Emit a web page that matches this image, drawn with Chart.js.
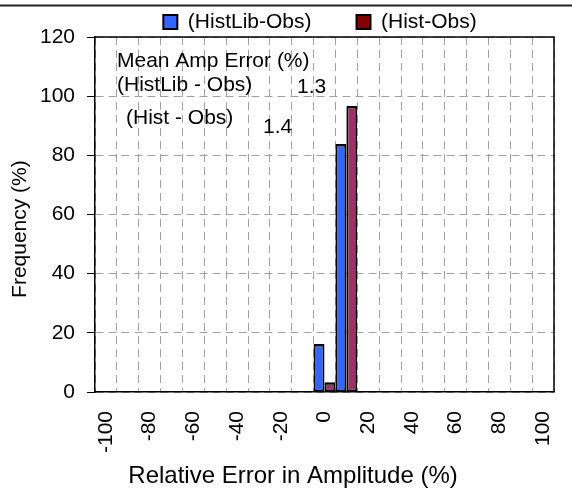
<!DOCTYPE html>
<html>
<head>
<meta charset="utf-8">
<script src="https://cdn.jsdelivr.net/npm/chart.js@4.4.1/dist/chart.umd.min.js"></script>
<style>
  html, body { margin: 0; padding: 0; background: #fff; }
  #wrap { width: 572px; height: 492px; }
</style>
</head>
<body>
<div id="wrap"><canvas id="ampChart" width="572" height="492"></canvas></div>
<script>
// Histogram bins (relative error, %), every other bin gets a label
const categories = ['-100', '-90', '-80', '-70', '-60', '-50', '-40', '-30', '-20', '-10', '0',
  '10', '20', '30', '40', '50', '60', '70', '80', '90', '100'];
const shownTicks = ['-100', '-80', '-60', '-40', '-20', '0', '20', '40', '60', '80', '100'];
const yTicks = [0, 20, 40, 60, 80, 100, 120];

// Frequency (%) per bin
const histLibObs = [0, 0, 0, 0, 0, 0, 0, 0, 0, 0, 16.2, 83.8, 0, 0, 0, 0, 0, 0, 0, 0, 0];
const histObs = [0, 0, 0, 0, 0, 0, 0, 0, 0, 0, 3.3, 96.7, 0, 0, 0, 0, 0, 0, 0, 0, 0];

const seriesNames = ['(HistLib-Obs)', '(Hist-Obs)'];
const noteTitle = 'Mean Amp Error (%)';
const noteRows = ['(HistLib - Obs)', '(Hist - Obs)'];
const noteValues = ['1.3', '1.4'];

const fontFamily = '"Liberation Sans", Arial, sans-serif';
Chart.defaults.font.family = fontFamily;
Chart.defaults.color = '#000';

const gridGrey = '#a0a0a0';
const barFills = ['#3366ff', '#993366'];
const legendFills = ['#3366ff', '#800000'];

// rule across the top, plot frame, and the mean-error note
const chartNotes = {
  id: 'chartNotes',
  afterLayout(chart) {
    const lg = chart.legend, area = chart.chartArea;
    const shift = (area.left + area.right) / 2 - 4.5 - (lg.left + lg.right) / 2;
    lg.left += shift;
    lg.right += shift;
    lg.top += 5.5;
    lg.bottom += 5.5;
  },
  beforeDraw(chart) {
    const ctx = chart.ctx;
    ctx.save();
    ctx.strokeStyle = '#222';
    ctx.lineWidth = 2;
    ctx.beginPath();
    ctx.moveTo(0, 5.5);
    ctx.lineTo(chart.width, 5.5);
    ctx.stroke();
    ctx.restore();
  },
  afterDatasetsDraw(chart) {
    const { ctx, chartArea: a } = chart;
    ctx.save();
    ctx.strokeStyle = '#000';
    ctx.lineWidth = 1.5;
    ctx.beginPath();
    ctx.moveTo(a.left, a.top);
    ctx.lineTo(a.right, a.top);
    ctx.lineTo(a.right, a.bottom);
    ctx.stroke();

    ctx.font = '21px ' + fontFamily;
    ctx.fillStyle = '#000';
    ctx.textBaseline = 'alphabetic';
    ctx.textAlign = 'left';
    ctx.fillText(noteTitle, a.left + 22, a.top + 30);
    ctx.fillText(noteRows[0], a.left + 22, a.top + 54);
    ctx.fillText(noteValues[0], a.left + 202, a.top + 56);
    ctx.fillText(noteRows[1], a.left + 31, a.top + 87);
    ctx.fillText(noteValues[1], a.left + 168, a.top + 96);
    ctx.restore();
  }
};

new Chart(document.getElementById('ampChart'), {
  type: 'bar',
  data: {
    labels: categories,
    datasets: [
      { label: seriesNames[0], data: histLibObs, backgroundColor: barFills[0] },
      { label: seriesNames[1], data: histObs, backgroundColor: barFills[1] }
    ]
  },
  options: {
    responsive: false,
    devicePixelRatio: 1,
    animation: false,
    layout: { padding: { top: -39, right: 18, bottom: 0, left: 0 } },
    datasets: {
      bar: {
        categoryPercentage: 1,
        barPercentage: 1,
        borderColor: '#000',
        borderWidth: { top: 2.5, left: 2, right: 2, bottom: 2 },
        borderSkipped: false,
        inflateAmount: 0
      }
    },
    plugins: {
      tooltip: { enabled: false },
      legend: {
        position: 'top',
        labels: {
          font: { size: 21 },
          boxWidth: 14,
          boxHeight: 14,
          padding: 45,
          generateLabels(chart) {
            const items = Chart.defaults.plugins.legend.labels.generateLabels(chart);
            items.forEach((it, i) => {
              it.fillStyle = legendFills[i];
              it.strokeStyle = '#000';
              it.lineWidth = 2;
            });
            return items;
          }
        }
      }
    },
    scales: {
      x: {
        offset: true,
        // invisible tick marks keep the rotated labels clear of the axis
        grid: { offset: true, color: gridGrey, tickLength: 19, tickColor: 'rgba(0,0,0,0)' },
        border: { color: '#000', width: 1.5, dash: [8, 5] },
        ticks: {
          autoSkip: false,
          minRotation: 90,
          maxRotation: 90,
          padding: 0,
          font: { size: 21 },
          callback(value) {
            const lab = this.getLabelForValue(value);
            return shownTicks.includes(lab) ? lab : '';
          }
        },
        title: {
          display: true,
          align: 'start',
          text: '     Relative Error in Amplitude (%)',
          font: { size: 24 },
          padding: { top: 0, bottom: 1 }
        },
        afterFit(scale) { scale.height = 100; }
      },
      y: {
        min: yTicks[0],
        max: yTicks[yTicks.length - 1],
        afterBuildTicks(scale) { scale.ticks = yTicks.map(v => ({ value: v })); },
        ticks: { padding: 12, font: { size: 21 } },
        grid: { color: gridGrey, tickColor: '#000', tickLength: 8 },
        border: { color: '#000', width: 1.5, dash: [8, 5] },
        title: {
          display: true,
          text: 'Frequency (%)     ',
          font: { size: 21 },
          padding: { top: 8, bottom: 0 }
        },
        afterFit(scale) { scale.width = 95; }
      }
    }
  },
  plugins: [chartNotes]
});
</script>
</body>
</html>
